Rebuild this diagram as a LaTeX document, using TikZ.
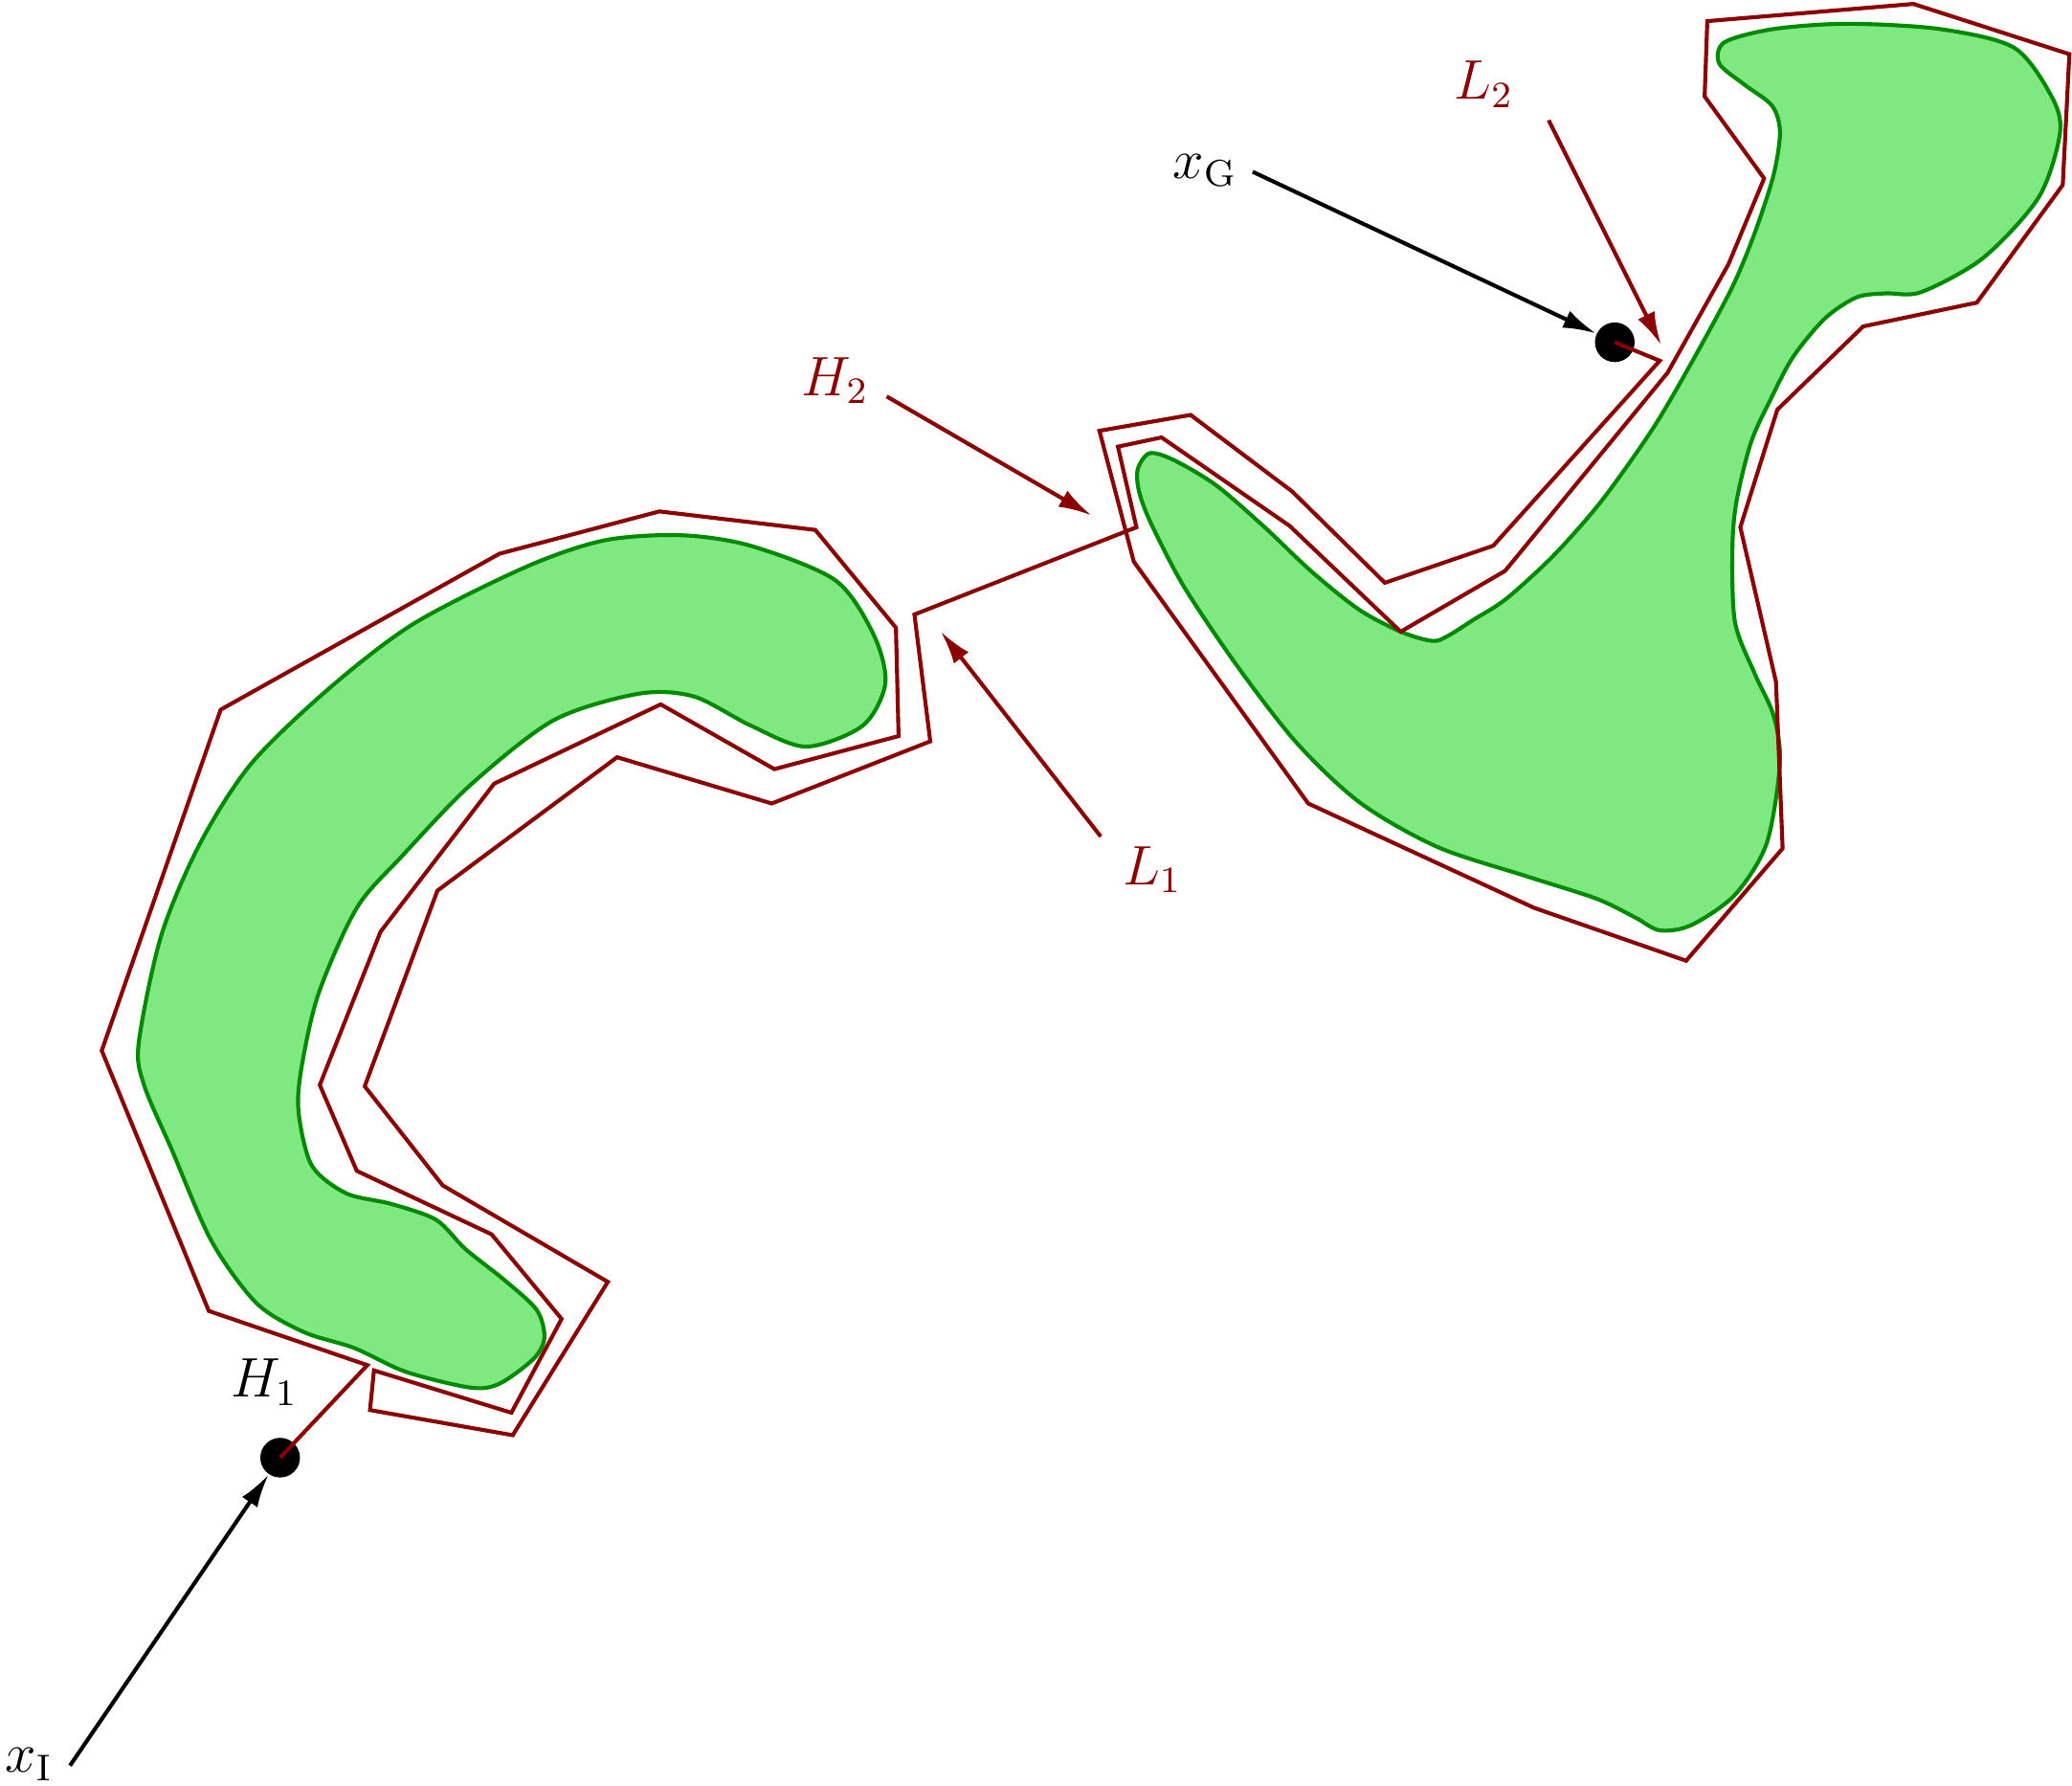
\documentclass[tikz,border=0pt]{standalone}
\usetikzlibrary{arrows.meta}
\definecolor{wallred}{RGB}{139,0,0}
\definecolor{blobfill}{RGB}{128,232,128}
\definecolor{blobedge}{RGB}{0,138,0}
\tikzset{
  blob/.style={draw=blobedge, fill=blobfill, line width=0.85pt},
  wall/.style={draw=wallred, line width=0.85pt},
  dot/.style={circle, fill=black, minimum size=3mm, inner sep=0pt},
  lbl/.style={font=\large, inner sep=1pt},
  ptr/.style={-{Latex[length=2.5mm,width=1.4mm]}, line width=0.85pt},
}
\begin{document}
\begin{tikzpicture}[x=0.1mm, y=-0.1mm]
  \useasboundingbox (0,0) rectangle (1568,1351);

  \draw[blob] plot[smooth cycle] coordinates {(515,405) (568,413) (632,439) (661,480) (670,517) (653,549) (610,565) (568,549) (525,527) (483,525) (419,545) (356,594) (305,647) (270,687) (241,752) (228,809) (226,842) (236,882) (262,903) (296,911) (330,923) (352,945) (381,968) (406,991) (412,1012) (404,1028) (378,1047) (356,1050) (307,1038) (268,1020) (230,1008) (194,986) (160,939) (130,870) (109,821) (105,789) (122,708) (151,639) (190,578) (249,521) (313,472) (398,429) (457,409)};
  \draw[blob] plot[smooth cycle] coordinates {(1305,32) (1342,22) (1398,18) (1468,22) (1524,36) (1552,72) (1559,100) (1543,149) (1501,195) (1454,221) (1427,222) (1405,225) (1381,241) (1357,270) (1340,302) (1325,335) (1314,380) (1311,416) (1313,471) (1328,510) (1342,541) (1347,577) (1337,638) (1313,677) (1280,700) (1256,704) (1237,694) (1208,680) (1155,663) (1088,641) (1030,608) (982,563) (937,505) (896,444) (871,396) (862,372) (861,355) (870,343) (888,348) (920,367) (956,398) (992,432) (1028,461) (1060,478) (1084,485) (1096,481) (1115,469) (1140,453) (1176,420) (1212,379) (1251,324) (1282,271) (1311,217) (1328,176) (1342,133) (1347,100) (1341,80) (1320,64) (1301,48)};

  \node[dot] (xI) at (212,1103) {};
  \node[dot] (xG) at (1222,259) {};

  \draw[wall] (xI.center) -- (278,1033) -- (158,992) -- (77,795) -- (167,537) -- (378,419) -- (499,387) -- (617,401) -- (678,475) -- (680,557) -- (586,582) -- (500,533) -- (374,593) -- (288,705) -- (242,821) -- (270,886) -- (372,934) -- (425,998) -- (387,1069) -- (283,1037) -- (280,1067) -- (388,1086) -- (460,970) -- (335,897) -- (276,822) -- (331,674) -- (467,573) -- (584,608) -- (704,561) -- (692,465) -- (860,399) -- (846,338) -- (879,331) -- (976,398) -- (1060,478) -- (1139,432) -- (1262,282) -- (1308,200) -- (1335,135) -- (1290,73) -- (1292,16) -- (1448,3) -- (1566,41) -- (1561,140) -- (1496,229) -- (1410,247) -- (1345,310) -- (1317,399) -- (1344,516) -- (1349,642) -- (1276,727) -- (1161,687) -- (990,608) -- (858,425) -- (832,326) -- (901,314) -- (978,372) -- (1048,441) -- (1130,413) -- (1256,273) -- (xG.center);

  \node[lbl] (lxI) at (22,1335) {$x_{\mathrm{I}}$};
  \node[lbl] (lxG) at (912,129) {$x_{\mathrm{G}}$};
  \node[lbl] (lH1) at (200,1046) {$H_1$};
  \node[lbl, text=wallred] (lH2) at (632,288) {$H_2$};
  \node[lbl, text=wallred] (lL1) at (872,658) {$L_1$};
  \node[lbl, text=wallred] (lL2) at (1123,64) {$L_2$};

  \coordinate (xItail) at (53,1336);
  \coordinate (xGtail) at (948,130);
  \coordinate (h2tail) at (671,300);
  \coordinate (h2head) at (826,390);
  \coordinate (l1tail) at (833,633);
  \coordinate (l1head) at (712,478);
  \coordinate (l2tail) at (1172,91);
  \coordinate (l2head) at (1257,261);

  \draw[ptr] (xItail) -- (xI);
  \draw[ptr] (xGtail) -- (xG);
  \draw[ptr, wallred] (h2tail) -- (h2head);
  \draw[ptr, wallred] (l1tail) -- (l1head);
  \draw[ptr, wallred] (l2tail) -- (l2head);
\end{tikzpicture}
\end{document}
